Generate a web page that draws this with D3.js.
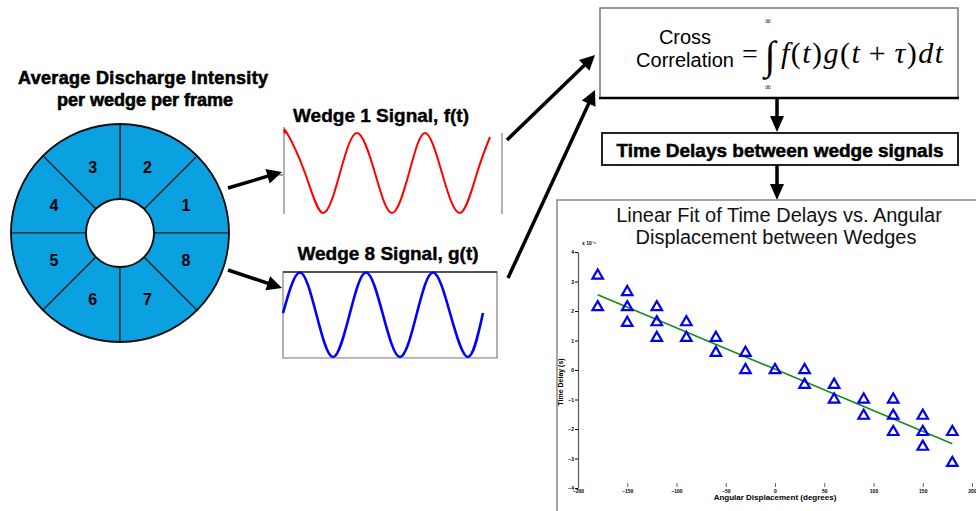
<!DOCTYPE html>
<html>
<head>
<meta charset="utf-8">
<script src="https://cdn.jsdelivr.net/npm/d3@7"></script>
<style>
  body { margin: 0; background: #fff; }
  svg { display: block; font-family: "Liberation Sans", Arial, sans-serif; }
</style>
</head>
<body>
<div id="chart"></div>
<script>
// wedge numbers around the ring
const wedges = [1, 2, 3, 4, 5, 6, 7, 8];

// signal samples (t in samples, value normalised to +-1)
const wedge1T = [0, 2, 20, 38, 55, 72, 90, 107, 124, 140, 157, 175, 192, 205];
const wedge1V = [0.98, 1, 0, -1, 0, 1, 0, -1, 0, 1, 0, -1, 0, 0.9];
const wedge8T = [0, 17, 33.5, 50, 66.5, 83, 100, 117, 133.5, 150, 167.5, 185, 200];
const wedge8V = [0.04, 1, 0, -1, 0, 1, 0, -1, 0, 1, 0, -1, 0.04];

// time delay (x10^-5 s) vs angular displacement (deg)
const angles = [-180, -180, -150, -150, -150, -120, -120, -120, -90, -90, -60, -60, -30, -30, 0,
    30, 30, 60, 60, 90, 90, 120, 120, 120, 150, 150, 150, 180, 180];
const delays = [3.2, 2.13, 2.64, 2.13, 1.6, 2.13, 1.62, 1.09, 1.62, 1.09, 1.09, 0.58, 0.58, 0, 0,
    0, -0.5, -0.5, -1.0, -1.0, -1.55, -1.0, -1.55, -2.1, -1.55, -2.1, -2.6, -2.1, -3.15];
const xTicks = [-200, -150, -100, -50, 0, 50, 100, 150, 200];
const yTicks = [-4, -3, -2, -1, 0, 1, 2, 3, 4];

const width = 976, height = 511;

const svg = d3.select("#chart")
  .append("svg")
    .attr("width", width)
    .attr("height", height);

// arrow: thick stem plus filled head
const arrow = (x1, y1, x2, y2, head = 15, half = 7.5, w = 3.5) => {
    const dx = x2 - x1, dy = y2 - y1, len = Math.hypot(dx, dy);
    const ux = dx / len, uy = dy / len;
    const bx = x2 - ux * head, by = y2 - uy * head;
    svg.append("line")
        .attr("x1", x1).attr("y1", y1)
        .attr("x2", bx + ux * 2).attr("y2", by + uy * 2)
        .attr("stroke", "#000").attr("stroke-width", w);
    svg.append("polygon")
        .attr("points", [[x2, y2], [bx - uy * half, by + ux * half], [bx + uy * half, by - ux * half]].join(" "))
        .attr("fill", "#000");
};

// ---- ring of wedges ----
const cx = 120, cy = 233, rIn = 34, rOut = 109;
const arc = d3.arc().innerRadius(rIn).outerRadius(rOut);
const deg = Math.PI / 180;

svg.append("text")
    .attr("x", 143).attr("y", 84)
    .attr("text-anchor", "middle")
    .attr("font-size", 18).attr("font-weight", "bold")
    .attr("stroke", "#000").attr("stroke-width", 0.6)
    .attr("textLength", 250)
    .text("Average Discharge Intensity");
svg.append("text")
    .attr("x", 145).attr("y", 106)
    .attr("text-anchor", "middle")
    .attr("font-size", 18).attr("font-weight", "bold")
    .attr("stroke", "#000").attr("stroke-width", 0.6)
    .text("per wedge per frame");

const ring = svg.append("g").attr("transform", `translate(${cx},${cy})`);
const wedgeData = wedges.map(d => ({
    n: d,
    startAngle: (90 - d * 45) * deg,
    endAngle: (90 - (d - 1) * 45) * deg
}));
ring.selectAll("path")
    .data(wedgeData)
    .join("path")
    .attr("d", arc)
    .attr("fill", "#0ba0e0")
    .attr("stroke", "#1a1a1a")
    .attr("stroke-width", 1.2);
ring.append("circle").attr("r", rOut).attr("fill", "none").attr("stroke", "#111").attr("stroke-width", 1.8);
ring.append("circle").attr("r", rIn).attr("fill", "#fff").attr("stroke", "#111").attr("stroke-width", 1.8);
ring.selectAll("text")
    .data(wedgeData)
    .join("text")
    .attr("transform", d => `translate(${arc.centroid(d)})`)
    .attr("text-anchor", "middle")
    .attr("dy", "0.36em")
    .attr("font-size", 16).attr("font-weight", "bold")
    .text(d => d.n);

arrow(228, 188, 282, 172);
arrow(228, 270, 282, 288);

// ---- the two signals ----
const sigLine = (xs, ys) => d3.line()
    .x(d => xs(d[0])).y(d => ys(d[1]))
    .curve(d3.curveNatural);

svg.append("text")
    .attr("x", 381).attr("y", 122)
    .attr("text-anchor", "middle")
    .attr("font-size", 19).attr("font-weight", "bold")
    .attr("stroke", "#000").attr("stroke-width", 0.4)
    .text("Wedge 1 Signal, f(t)");
const x1s = d3.scaleLinear().domain([0, 217]).range([285, 502]);
const y1s = d3.scaleLinear().domain([-1, 1]).range([213, 133]);
svg.append("line").attr("x1", 284).attr("x2", 284).attr("y1", 127).attr("y2", 214).attr("stroke", "#999").attr("stroke-width", 1.5);
svg.append("line").attr("x1", 502).attr("x2", 502).attr("y1", 133).attr("y2", 214).attr("stroke", "#999").attr("stroke-width", 1.5);
svg.append("line").attr("x1", 279).attr("x2", 283).attr("y1", 175).attr("y2", 175).attr("stroke", "#444").attr("stroke-width", 1);
svg.append("path")
    .datum(d3.zip(wedge1T, wedge1V))
    .attr("d", sigLine(x1s, y1s))
    .attr("fill", "none")
    .attr("stroke", "#ff0000")
    .attr("stroke-width", 2);

svg.append("text")
    .attr("x", 388).attr("y", 260)
    .attr("text-anchor", "middle")
    .attr("font-size", 19).attr("font-weight", "bold")
    .attr("stroke", "#000").attr("stroke-width", 0.4)
    .text("Wedge 8 Signal, g(t)");
const x8s = d3.scaleLinear().domain([0, 214]).range([283, 497]);
const y8s = d3.scaleLinear().domain([-1, 1]).range([357, 272.5]);
svg.append("rect").attr("x", 283).attr("y", 272).attr("width", 214).attr("height", 86)
    .attr("fill", "none").attr("stroke", "#999").attr("stroke-width", 1.5);
svg.append("line").attr("x1", 283).attr("x2", 497).attr("y1", 272).attr("y2", 272).attr("stroke", "#333").attr("stroke-width", 1.5);
svg.append("rect").attr("x", 282).attr("y", 358.8).attr("width", 217).attr("height", 4).attr("fill", "#fff");
svg.append("path")
    .datum(d3.zip(wedge8T, wedge8V))
    .attr("d", sigLine(x8s, y8s))
    .attr("fill", "none")
    .attr("stroke", "#0000ff")
    .attr("stroke-width", 2.6);

arrow(507, 140, 595, 55);
arrow(508, 278, 595, 90);

// ---- cross correlation box ----
svg.append("rect").attr("x", 600).attr("y", 8).attr("width", 358).attr("height", 90)
    .attr("fill", "#fff").attr("stroke", "#777").attr("stroke-width", 1.5);
svg.append("line").attr("x1", 599).attr("x2", 959).attr("y1", 98).attr("y2", 98).attr("stroke", "#000").attr("stroke-width", 2.5);
svg.append("text").attr("x", 685).attr("y", 44).attr("text-anchor", "middle").attr("font-size", 20).text("Cross");
svg.append("text").attr("x", 685).attr("y", 67).attr("text-anchor", "middle").attr("font-size", 20).text("Correlation");

const serif = "'Liberation Serif', 'Times New Roman', serif";
svg.append("text").attr("x", 750).attr("y", 63).attr("text-anchor", "middle")
    .attr("font-family", serif).attr("font-size", 28).text("=");
svg.append("text").attr("x", 770).attr("y", 69).attr("text-anchor", "middle")
    .attr("font-family", serif).attr("font-size", 40).attr("font-style", "italic").text("∫");
svg.append("text").attr("x", 768).attr("y", 24).attr("text-anchor", "middle")
    .attr("font-family", serif).attr("font-size", 9).text("∞");
svg.append("text").attr("x", 768).attr("y", 90).attr("text-anchor", "middle")
    .attr("font-family", serif).attr("font-size", 9).text("∞");

const formulaParts = [["f", true], ["(", false], ["t", true], [")", false], ["g", true], ["(", false],
    ["t", true], ["\u2009+\u2009", false], ["τ", true], [")", false], ["d", true], ["t", true]];
svg.append("text").attr("x", 781).attr("y", 63)
    .attr("font-family", serif).attr("font-size", 30)
    .attr("textLength", 162)
    .selectAll("tspan")
    .data(formulaParts)
    .join("tspan")
    .attr("font-style", d => d[1] ? "italic" : "normal")
    .text(d => d[0]);

arrow(777, 98, 777, 132, 16, 7, 3.5);

svg.append("rect").attr("x", 602).attr("y", 133).attr("width", 356).attr("height", 32)
    .attr("fill", "#fff").attr("stroke", "#222").attr("stroke-width", 2);
svg.append("text").attr("x", 780).attr("y", 157).attr("text-anchor", "middle")
    .attr("font-size", 19).attr("font-weight", "bold")
    .attr("stroke", "#000").attr("stroke-width", 0.5)
    .text("Time Delays between wedge signals");

arrow(777, 165, 777, 200, 16, 7, 3.5);

// ---- scatter of time delays ----
svg.append("path")
    .attr("d", "M557,511V200H976")
    .attr("fill", "none").attr("stroke", "#888").attr("stroke-width", 1.5);

svg.append("text").attr("x", 779).attr("y", 222).attr("text-anchor", "middle")
    .attr("font-size", 20).attr("fill", "#111").text("Linear Fit of Time Delays vs. Angular");
svg.append("text").attr("x", 776).attr("y", 244).attr("text-anchor", "middle")
    .attr("font-size", 20).attr("fill", "#111").text("Displacement between Wedges");

const x = d3.scaleLinear().domain([-200, 200]).range([578, 972]);
const y = d3.scaleLinear().domain([-4, 4]).range([488, 252]);

const yAxis = svg.append("g")
    .attr("transform", "translate(578,0)")
    .call(d3.axisLeft(y).tickValues(yTicks).tickSizeInner(3).tickSizeOuter(0).tickPadding(1));
yAxis.selectAll("text").attr("font-size", 5).attr("font-weight", "bold");
yAxis.select(".domain").attr("stroke", "#555").attr("stroke-width", 1.2);

const xAxis = svg.append("g")
    .attr("transform", "translate(0,487)")
    .call(d3.axisBottom(x).tickValues(xTicks).tickSizeInner(-4).tickSizeOuter(0).tickPadding(2));
xAxis.select(".domain").remove();
xAxis.selectAll("line").attr("stroke", "#666");
xAxis.selectAll("text").attr("font-size", 5).attr("font-weight", "bold");

svg.append("text").attr("x", 582).attr("y", 245).attr("font-size", 5).attr("font-weight", "bold")
    .text("x 10⁻⁵");
svg.append("text")
    .attr("transform", "translate(563,382) rotate(-90)")
    .attr("text-anchor", "middle")
    .attr("font-size", 7).attr("font-weight", "bold")
    .text("Time Delay (s)");
svg.append("text").attr("x", 775).attr("y", 500).attr("text-anchor", "middle")
    .attr("font-size", 8).attr("font-weight", "bold")
    .text("Angular Displacement (degrees)");

// least squares fit through the points
const mx = d3.mean(angles), my = d3.mean(delays);
const slope = d3.sum(angles, (a, i) => (a - mx) * (delays[i] - my)) / d3.sum(angles, a => (a - mx) ** 2);
const fitX = d3.extent(angles);
svg.append("line")
    .attr("x1", x(fitX[0])).attr("y1", y(my + slope * (fitX[0] - mx)))
    .attr("x2", x(fitX[1])).attr("y2", y(my + slope * (fitX[1] - mx)))
    .attr("stroke", "#1a8a1a").attr("stroke-width", 1.6);

svg.append("g")
    .selectAll("path")
    .data(d3.zip(angles, delays))
    .join("path")
    .attr("transform", d => `translate(${x(d[0])},${y(d[1])})`)
    .attr("d", d3.symbol(d3.symbolTriangle, 48))
    .attr("fill", "none")
    .attr("stroke", "#0000ee")
    .attr("stroke-width", 2.2);
</script>
</body>
</html>
